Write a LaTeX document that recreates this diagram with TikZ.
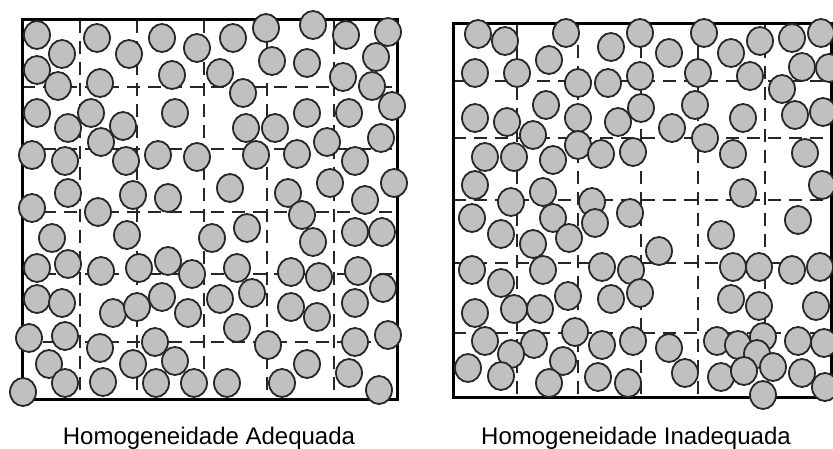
\documentclass[tikz,border=0pt]{standalone}
\usepackage{fontspec}
\setmainfont{Liberation Sans}
\usetikzlibrary{positioning}
\definecolor{grainfill}{RGB}{192,192,192}
\definecolor{rim}{RGB}{40,40,40}

\begin{document}
\begin{tikzpicture}[x=1pt,y=-1pt,
      wall/.style={draw=black,line width=3pt},
      cell/.style={draw=black!85,line width=1.3pt,dash pattern=on 13pt off 8pt},
      grain/.style={fill=grainfill,draw=rim,line width=1.8pt},
      lbl/.style={font=\fontsize{24}{28}\selectfont,anchor=base}]
    \useasboundingbox (0,0) rectangle (833,449);
    % LEFT: adequate homogeneity
    \foreach \x in {80,137,204,267,334} \draw[cell] (\x,20) -- (\x,399);
    \foreach \y in {87,149,212,274,342} \draw[cell] (22,\y) -- (397,\y);
    \draw[wall] (22,20) rectangle (397,399);
    \foreach \x/\y in {37/35,62/54,97/38,129/54,162/38,197/48,233/38,266/28,313/25,346/35,388/32,
        37/70,58/86,100/83,172/75,220/73,243/93,272/61,307/63,343/77,372/86,376/57,
        37/113,68/128,91/113,123/126,175/113,101/142,246/128,275/128,307/113,349/113,381/138,392/106,
        32/155,65/161,126/161,158/155,197/157,256/155,297/154,327/142,355/161,
        68/193,133/195,168/198,230/188,288/193,330/183,365/200,394/183,
        32/208,98/212,302/215,
        52/238,127/235,212/238,247/228,313/242,355/232,382/232,
        37/268,68/264,101/271,139/268,168/261,192/274,237/268,291/272,319/277,358/271,383/288,
        37/299,62/303,113/313,137/307,162/297,188/313,220/299,252/293,291/307,317/317,355/303,
        29/338,65/336,100/348,155/342,237/328,268/345,355/342,388/335,
        49/364,133/364,175/361,307/364,349/373,
        23/392,65/383,103/382,156/383,194/383,227/383,282/383,379/390}
      \draw[grain] (\x,\y) circle[x radius=13,y radius=14];
    \node[lbl] (labL) at (209,444) {Homogeneidade Adequada};
    % RIGHT: inadequate homogeneity
    \foreach \x in {517,578,641,698,765} \draw[cell] (\x,24) -- (\x,397);
    \foreach \y in {81,138,200,263,333} \draw[cell] (453,\y) -- (832,\y);
    \draw[wall] (453,24) rectangle (831.5,397);
    \foreach \x/\y in {478/34,505/41,566/33,611/47,640/33,669/53,704/33,731/53,760/41,792/38,821/33,
        475/73,517/73,549/60,578/83,608/83,640/76,698/73,750/76,782/89,802/67,829/68,
        546/105,475/118,507/122,578/118,618/122,641/108,695/105,743/118,795/115,823/112,
        533/135,578/145,672/128,705/138,
        485/157,514/157,553/160,601/154,633/152,733/154,805/153,
        475/185,543/192,743/193,822/185,
        511/202,592/202,630/213,
        472/218,553/218,595/223,501/234,533/244,569/238,721/235,798/220,659/251,
        472/270,543/270,602/267,631/270,733/267,759/267,792/270,820/267,
        501/283,568/296,611/299,640/293,731/299,759/306,816/306,
        475/313,514/309,540/309,575/332,
        485/341,534/344,602/345,633/341,669/348,717/341,738/345,763/337,757/354,798/341,824/343,
        511/354,563/361,468/368,501/376,549/383,598/377,628/383,
        685/373,721/377,744/371,773/367,802/373,763/395,825/387}
      \draw[grain] (\x,\y) circle[x radius=13,y radius=14];
    \node[lbl] (labR) at (636,444) {Homogeneidade Inadequada};
\end{tikzpicture}
\end{document}
